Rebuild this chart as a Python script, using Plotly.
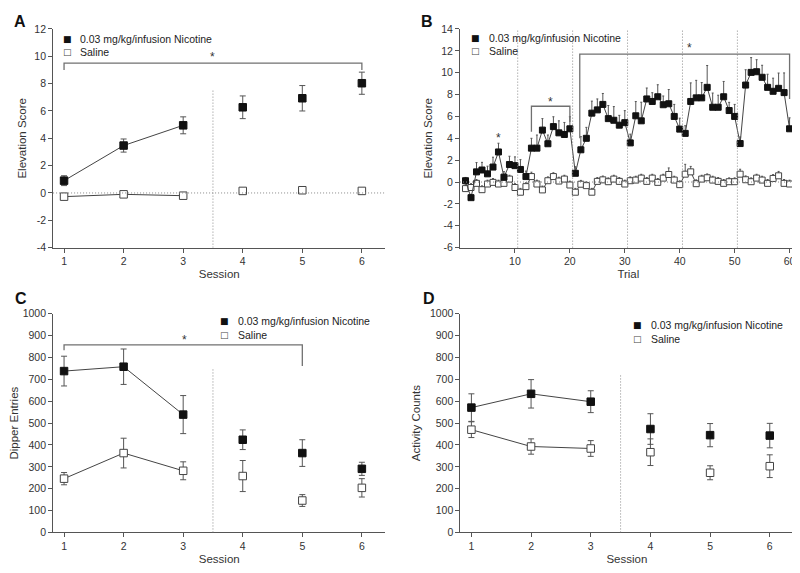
import plotly.graph_objects as go

# page body has an 8px margin: the figure is sized so that it ends at the window edge
OFF = 8
W, H = 800 - OFF, 573 - OFF

# ---------------- data ----------------
sessions = [1, 2, 3, 4, 5, 6]

a_nic = [0.9, 3.47, 4.95, 6.27, 6.93, 8.03]
a_nic_err = [0.36, 0.48, 0.62, 0.83, 0.93, 0.81]
a_sal = [-0.27, -0.1, -0.2, 0.15, 0.2, 0.15]
a_sal_err = [0.12, 0.1, 0.1, 0.1, 0.1, 0.1]

trials = list(range(1, 61))
b_nic = [0.12, -1.43, 0.93, 1.1, 0.75, 1.37, 2.75, 0.45, 1.6, 1.5,
         1.15, 0.5, 3.1, 3.1, 4.75, 3.5, 5.07, 4.5, 4.35, 4.87,
         0.8, 2.95, 4.0, 6.3, 6.6, 7.1, 5.8, 5.65, 5.2, 5.43,
         3.58, 6.06, 5.6, 7.6, 7.37, 7.8, 7.07, 7.16, 6.0, 4.84,
         4.45, 7.37, 7.7, 7.7, 8.66, 6.84, 6.84, 7.8, 6.54, 6.0,
         3.52, 8.87, 10.03, 10.09, 9.58, 8.66, 8.3, 8.57, 8.18, 4.87]
b_nic_err = [0.3, 0.3, 0.85, 0.7, 0.7, 0.9, 0.8, 0.5, 0.76, 0.8,
             0.9, 0.5, 0.9, 1.2, 1.05, 0.8, 0.9, 1.1, 1.1, 1.1,
             0.6, 1.2, 1.0, 1.1, 1.0, 1.0, 1.2, 1.25, 0.9, 1.1,
             0.8, 1.3, 1.7, 1.0, 0.8, 1.1, 0.8, 1.3, 1.1, 1.0,
             0.7, 1.7, 1.6, 1.4, 2.0, 1.3, 1.1, 1.4, 0.75, 1.1,
             0.6, 1.4, 1.35, 1.1, 1.1, 1.2, 1.2, 1.4, 1.8, 1.0]
b_sal = [-0.6, -0.5, -0.12, -0.7, -0.18, -0.03, -0.18, -0.12, 0.27, -0.5,
         -0.93, -0.42, 0.5, -0.18, -0.72, 0.12, 0.5, 0.09, 0.27, -0.27,
         -0.93, -0.2, -0.33, -0.93, 0.06, 0.2, 0.03, 0.27, 0.06, -0.18,
         0.12, 0.18, 0.36, 0.06, 0.36, -0.03, 0.36, 0.69, 0.18, -0.24,
         0.72, 0.93, -0.15, 0.27, 0.39, 0.18, 0.06, -0.12, 0.03, 0.03,
         0.72, 0.21, 0.03, 0.36, 0.18, -0.12, 0.33, 0.57, -0.12, -0.18]
b_sal_err = [0.35, 0.35, 0.35, 0.35, 0.35, 0.35, 0.35, 0.35, 0.35, 0.35,
             0.35, 0.35, 0.4, 0.35, 0.35, 0.35, 0.35, 0.35, 0.35, 0.35,
             0.35, 0.35, 0.35, 0.35, 0.35, 0.35, 0.35, 0.35, 0.35, 0.35,
             0.35, 0.35, 0.35, 0.35, 0.35, 0.35, 0.35, 0.6, 0.35, 0.35,
             0.9, 0.5, 0.35, 0.35, 0.35, 0.35, 0.35, 0.35, 0.35, 0.35,
             0.45, 0.35, 0.35, 0.35, 0.35, 0.35, 0.35, 0.4, 0.35, 0.35]

c_nic = [738, 758, 539, 424, 363, 291]
c_nic_err = [68, 81, 87, 45, 61, 30]
c_sal = [246, 363, 282, 258, 146, 204]
c_sal_err = [28, 68, 41, 71, 27, 42]

d_nic = [571, 634, 598, 473, 445, 443]
d_nic_err = [63, 65, 50, 70, 53, 56]
d_sal = [470, 393, 384, 367, 273, 303]
d_sal_err = [36, 35, 36, 61, 32, 52]

nic_name = "0.03 mg/kg/infusion Nicotine"
sal_name = "Saline"

elev_ticks = [-6, -4, -2, 0, 2, 4, 6, 8, 10, 12, 14]
elev_labels = ["-6", "-4", "-2", "0", "2", "4", "6", "8", "10", "12", "14"]
trial_ticks = [10, 20, 30, 40, 50, 60]

# ---------------- style ----------------
FONT = "Liberation Sans, Arial, sans-serif"
AX = "#555555"
LINE = "#444444"
ERR = "#555555"


def px(x):
    return (x - OFF) / W


def py(y):
    return 1 - (y - OFF) / H


fig = go.Figure()


def add_series(xs, ys, errs, ax, filled, lines, size, upward_only=False, cap=3):
    xa, ya = ("x", "y") if ax == 1 else (f"x{ax}", f"y{ax}")
    err = dict(type="data", array=errs, color=ERR, thickness=1, width=cap, visible=True)
    if upward_only:
        err["symmetric"] = False
        err["arrayminus"] = [0] * len(errs)
    marker = dict(symbol="square", size=size,
                  color="#111111" if filled else "white",
                  line=dict(color="#111111" if filled else "#444444", width=1))
    fig.add_trace(go.Scatter(x=xs, y=ys, mode="lines+markers" if lines else "markers",
                             line=dict(color=LINE, width=1), marker=marker,
                             error_y=err, xaxis=xa, yaxis=ya, showlegend=False,
                             cliponaxis=False))


# Panel A
add_series(sessions[:3], a_sal[:3], a_sal_err[:3], 1, False, True, 7.5)
add_series(sessions[3:], a_sal[3:], a_sal_err[3:], 1, False, False, 7.5)
add_series(sessions[:3], a_nic[:3], a_nic_err[:3], 1, True, True, 7.5)
add_series(sessions[3:], a_nic[3:], a_nic_err[3:], 1, True, False, 7.5)
# Panel B
add_series(trials, b_sal, b_sal_err, 2, False, True, 6, upward_only=True, cap=1)
add_series(trials, b_nic, b_nic_err, 2, True, True, 6, upward_only=True, cap=1)
# Panel C
add_series(sessions[:3], c_sal[:3], c_sal_err[:3], 3, False, True, 7.5)
add_series(sessions[3:], c_sal[3:], c_sal_err[3:], 3, False, False, 7.5)
add_series(sessions[:3], c_nic[:3], c_nic_err[:3], 3, True, True, 7.5)
add_series(sessions[3:], c_nic[3:], c_nic_err[3:], 3, True, False, 7.5)
# Panel D
add_series(sessions[:3], d_sal[:3], d_sal_err[:3], 4, False, True, 7.5)
add_series(sessions[3:], d_sal[3:], d_sal_err[3:], 4, False, False, 7.5)
add_series(sessions[:3], d_nic[:3], d_nic_err[:3], 4, True, True, 7.5)
add_series(sessions[3:], d_nic[3:], d_nic_err[3:], 4, True, False, 7.5)


def axis(dom, rng, title, standoff, tickvals=None, ticktext=None, dtick=None):
    a = dict(domain=dom, range=rng, showline=True, linecolor=AX, linewidth=1,
             ticks="outside", ticklen=4, tickcolor=AX, tickwidth=1,
             showgrid=False, zeroline=False,
             tickfont=dict(family=FONT, size=10.5, color="#333333"),
             title=dict(text=title, standoff=standoff,
                        font=dict(family=FONT, size=11.5, color="#333333")),
             fixedrange=True)
    if tickvals is not None:
        a["tickmode"] = "array"
        a["tickvals"] = tickvals
        if ticktext is not None:
            a["ticktext"] = ticktext
    if dtick is not None:
        a["dtick"] = dtick
        a["tick0"] = 0
    return a


xA = [px(49.3), px(383.3)]
xB = [px(458.3), px(796.7)]
xD = [px(458.7), px(793.3)]
yTop = [py(246.7), py(23.3)]
yBot = [py(537.7), py(314.3)]
sess_rng = [0.816, 6.395]

fig.update_layout(
    width=W, height=H, margin=dict(l=0, r=0, t=0, b=0),
    paper_bgcolor="white", plot_bgcolor="white",
    font=dict(family=FONT, color="#333333"),
    xaxis=axis(xA, sess_rng, "Session", 3, tickvals=sessions),
    yaxis=axis(yTop, [-4, 12], "Elevation Score", 5,
               tickvals=elev_ticks[1:-1], ticktext=elev_labels[1:-1]),
    xaxis2=axis(xB, [0, 61.3], "Trial", 3, tickvals=trial_ticks),
    yaxis2=axis(yTop, [-6, 14], "Elevation Score", 6,
                tickvals=elev_ticks, ticktext=elev_labels),
    xaxis3=axis(xA, sess_rng, "Session", 3, tickvals=sessions),
    yaxis3=axis(yBot, [0, 1000], "Dipper Entries", 7, dtick=100),
    xaxis4=axis(xD, sess_rng, "Session", 3, tickvals=sessions),
    yaxis4=axis(yBot, [0, 1000], "Activity Counts", 6, dtick=100),
)
for k in ["xaxis", "xaxis2", "xaxis3", "xaxis4"]:
    fig.layout[k].anchor = "y" + k[5:]
for k in ["yaxis", "yaxis2", "yaxis3", "yaxis4"]:
    fig.layout[k].anchor = "x" + k[5:]

DOT = dict(color="#8a8a8a", width=1, dash="1px,2px")
BR = dict(color="#707070", width=1.3)
shapes = []
# dotted separators
shapes.append(dict(type="line", xref="x", yref="y", x0=3.5, x1=3.5, y0=-4, y1=7.6, line=DOT))
shapes.append(dict(type="line", xref="x domain", yref="y", x0=0, x1=1, y0=0, y1=0, line=DOT))
for t in [10.5, 20.5, 30.5, 40.5, 50.5]:
    shapes.append(dict(type="line", xref="x2", yref="y2 domain", x0=t, x1=t, y0=0, y1=1, line=DOT))
shapes.append(dict(type="line", xref="x2 domain", yref="y2", x0=0, x1=1, y0=0, y1=0, line=DOT))
shapes.append(dict(type="line", xref="x3", yref="y3", x0=3.5, x1=3.5, y0=0, y1=754, line=DOT))
shapes.append(dict(type="line", xref="x4", yref="y4", x0=3.5, x1=3.5, y0=0, y1=721, line=DOT))


def bracket(xr, yr, x0, x1, ytop, yl, yr_end):
    shapes.append(dict(type="path", xref=xr, yref=yr,
                       path=f"M {x0},{yl} L {x0},{ytop} L {x1},{ytop} L {x1},{yr_end}",
                       line=BR))


bracket("x", "y", 1, 6, 9.5, 9.0, 9.0)
bracket("x2", "y2", 13, 20, 6.93, 4.6, 5.5)
bracket("x2", "y2", 21.8, 60, 11.7, 4.0, 7.6)
bracket("x3", "y3", 1, 5, 858, 833, 761)
fig.update_layout(shapes=shapes)

ann = []


def star(xr, yr, x, y):
    ann.append(dict(xref=xr, yref=yr, x=x, y=y, text="*", showarrow=False,
                    font=dict(family=FONT, size=12, color="#333333"), yanchor="middle"))


star("x", "y", 3.5, 9.95)
star("x2", "y2", 7, 4.0)
star("x2", "y2", 16.5, 7.35)
star("x2", "y2", 41.8, 12.3)
star("x3", "y3", 3.02, 882)

# panel letters (centre of glyph)
for letter, (lx, ly) in {"A": (16.5, 15.5), "B": (425, 15.5), "C": (17, 299), "D": (427, 299)}.items():
    ann.append(dict(xref="paper", yref="paper", x=px(lx), y=py(ly), xanchor="center", yanchor="middle",
                    text=f"<b>{letter}</b>", showarrow=False, borderpad=0,
                    font=dict(family=FONT, size=16, color="#111111")))

# legends (marker glyph + label)
legends = [(63.5, 33.3), (474, 32.3), (221.7, 321.7), (637, 326)]
for (lx, ly) in legends:
    for i, (name, glyph) in enumerate([(nic_name, "\u25A0"), (sal_name, "\u25A1")]):
        yy = ly + i * 14
        ann.append(dict(xref="paper", yref="paper", x=px(lx), y=py(yy), xanchor="center",
                        yanchor="middle", text=glyph, showarrow=False,
                        font=dict(family="DejaVu Sans", size=9, color="#111111" if i == 0 else "#444444")))
        ann.append(dict(xref="paper", yref="paper", x=px(lx + 11), y=py(yy), xanchor="left",
                        yanchor="middle", text=name, showarrow=False,
                        font=dict(family=FONT, size=10.5, color="#222222")))

fig.update_layout(annotations=ann)

fig.write_html("out.html")
